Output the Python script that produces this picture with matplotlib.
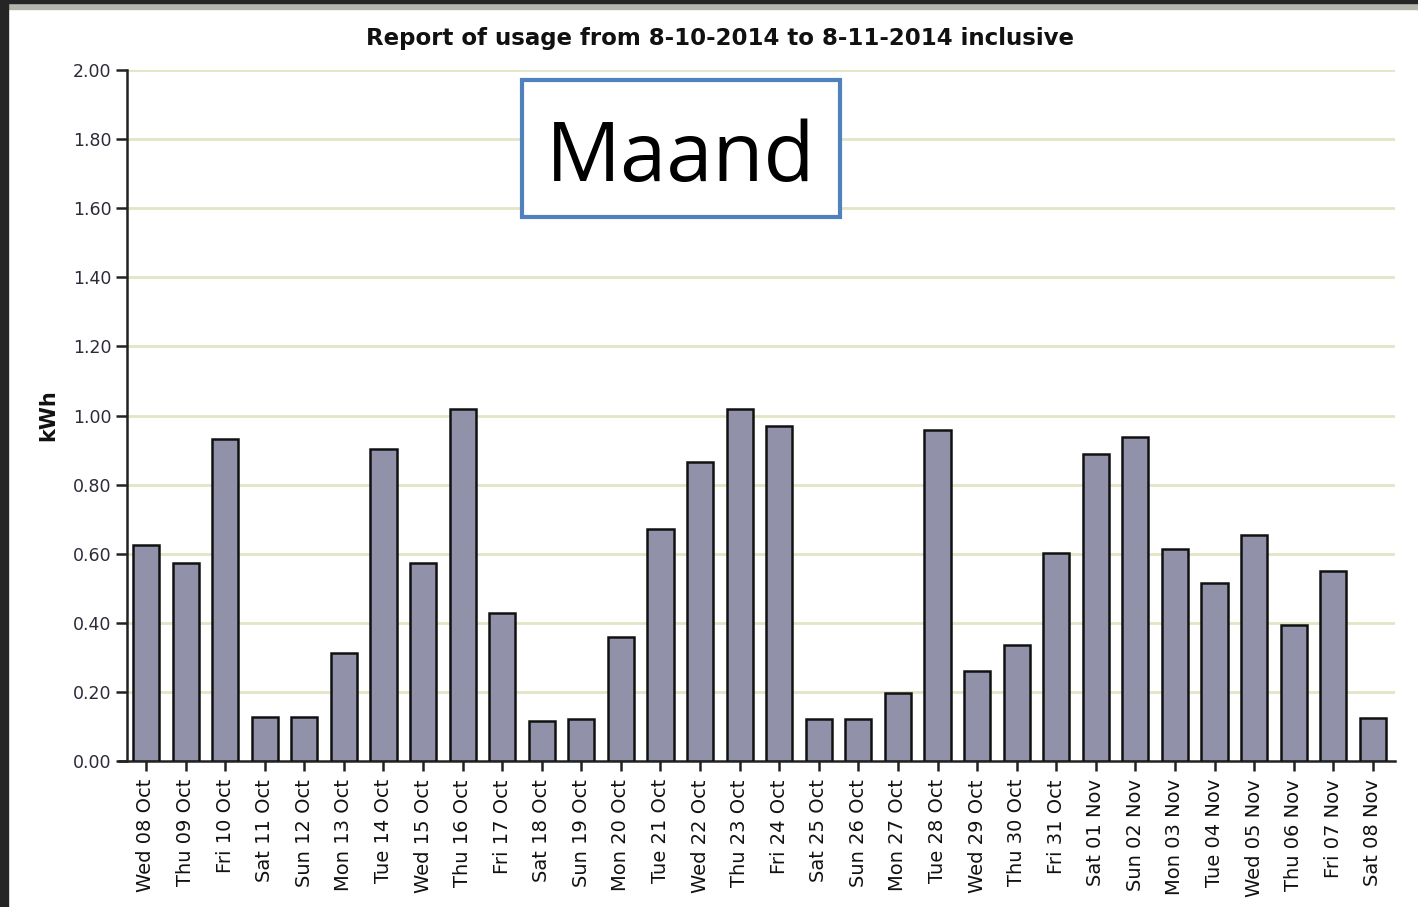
import matplotlib
matplotlib.use("Agg")
import matplotlib.pyplot as plt
from matplotlib.patches import Rectangle

days = ["Wed 08 Oct", "Thu 09 Oct", "Fri 10 Oct", "Sat 11 Oct", "Sun 12 Oct", "Mon 13 Oct",
        "Tue 14 Oct", "Wed 15 Oct", "Thu 16 Oct", "Fri 17 Oct", "Sat 18 Oct", "Sun 19 Oct",
        "Mon 20 Oct", "Tue 21 Oct", "Wed 22 Oct", "Thu 23 Oct", "Fri 24 Oct", "Sat 25 Oct",
        "Sun 26 Oct", "Mon 27 Oct", "Tue 28 Oct", "Wed 29 Oct", "Thu 30 Oct", "Fri 31 Oct",
        "Sat 01 Nov", "Sun 02 Nov", "Mon 03 Nov", "Tue 04 Nov", "Wed 05 Nov", "Thu 06 Nov",
        "Fri 07 Nov", "Sat 08 Nov"]
usage_kwh = [0.625, 0.573, 0.932, 0.127, 0.127, 0.313, 0.903, 0.573, 1.019, 0.428,
             0.116, 0.122, 0.359, 0.671, 0.865, 1.019, 0.970, 0.122, 0.122, 0.197,
             0.958, 0.260, 0.336, 0.602, 0.889, 0.938, 0.614, 0.515, 0.654, 0.394,
             0.550, 0.124]
y_ticks = [0.0, 0.2, 0.4, 0.6, 0.8, 1.0, 1.2, 1.4, 1.6, 1.8, 2.0]
title = "Report of usage from 8-10-2014 to 8-11-2014 inclusive"
y_label = "kWh"
box_text = "Maand"

W, H = 1418, 907
fig = plt.figure(figsize=(W / 100, H / 100), dpi=100)
fig.patch.set_facecolor("white")

ax = fig.add_axes([127 / W, 1 - 761 / H, (1395 - 127) / W, (761 - 70) / H])
x = list(range(len(days)))
ax.bar(x, usage_kwh, width=0.66, color="#9191AA", edgecolor="#111111", linewidth=1.8, zorder=3)

ax.set_xlim(-0.48, len(days) - 1 + 0.56)
ax.set_ylim(0, 2.0)
ax.set_yticks(y_ticks)
ax.set_yticklabels([f"{v:.2f}" for v in y_ticks], fontsize=12.5, color="#2b2b3a")
ax.set_xticks(x)
ax.set_xticklabels(days, rotation=90, fontsize=14, color="#111111")
ax.tick_params(axis="y", length=8, width=1.8, color="#222222", pad=3)
ax.tick_params(axis="x", length=7, width=1.8, color="#222222", pad=6)

for yv in y_ticks[1:]:
    ax.axhline(yv, color="#E3E5C4", linewidth=2.0, zorder=1)

for s in ["top", "right"]:
    ax.spines[s].set_visible(False)
ax.spines["left"].set_linewidth(1.8)
ax.spines["bottom"].set_linewidth(1.8)
ax.spines["left"].set_color("#222222")
ax.spines["bottom"].set_color("#222222")
ax.spines["bottom"].set_bounds(-0.48 - 0.2, len(days) - 1 + 0.56)

fig.text(720 / W, 1 - 39 / H, title, fontsize=16.5, fontweight="bold", color="#111111",
         ha="center", va="center")
fig.text(48 / W, 1 - 415 / H, y_label, fontsize=15, fontweight="bold", color="#111111",
         ha="center", va="center", rotation=90)

# Frame strips of the screenshot
fig.add_artist(Rectangle((0, 0), 8 / W, 1, transform=fig.transFigure, color="#252525", zorder=10))
fig.add_artist(Rectangle((0, 1 - 3 / H), 1, 3 / H, transform=fig.transFigure, color="#252525", zorder=10))
fig.add_artist(Rectangle((8 / W, 1 - 9 / H), 1, 6 / H, transform=fig.transFigure, color="#B5B5AE", zorder=9))

# "Maand" box
fig.add_artist(Rectangle((522 / W, 1 - 217 / H), 318 / W, 137 / H, transform=fig.transFigure,
                         facecolor="white", edgecolor="#4F81BD", linewidth=3, zorder=5))
fig.text(681 / W, 1 - 181 / H, box_text, fontsize=60, family="Open Sans", ha="center",
         va="baseline", color="black", zorder=6)

fig.savefig("out.png", dpi=100, facecolor="white")
